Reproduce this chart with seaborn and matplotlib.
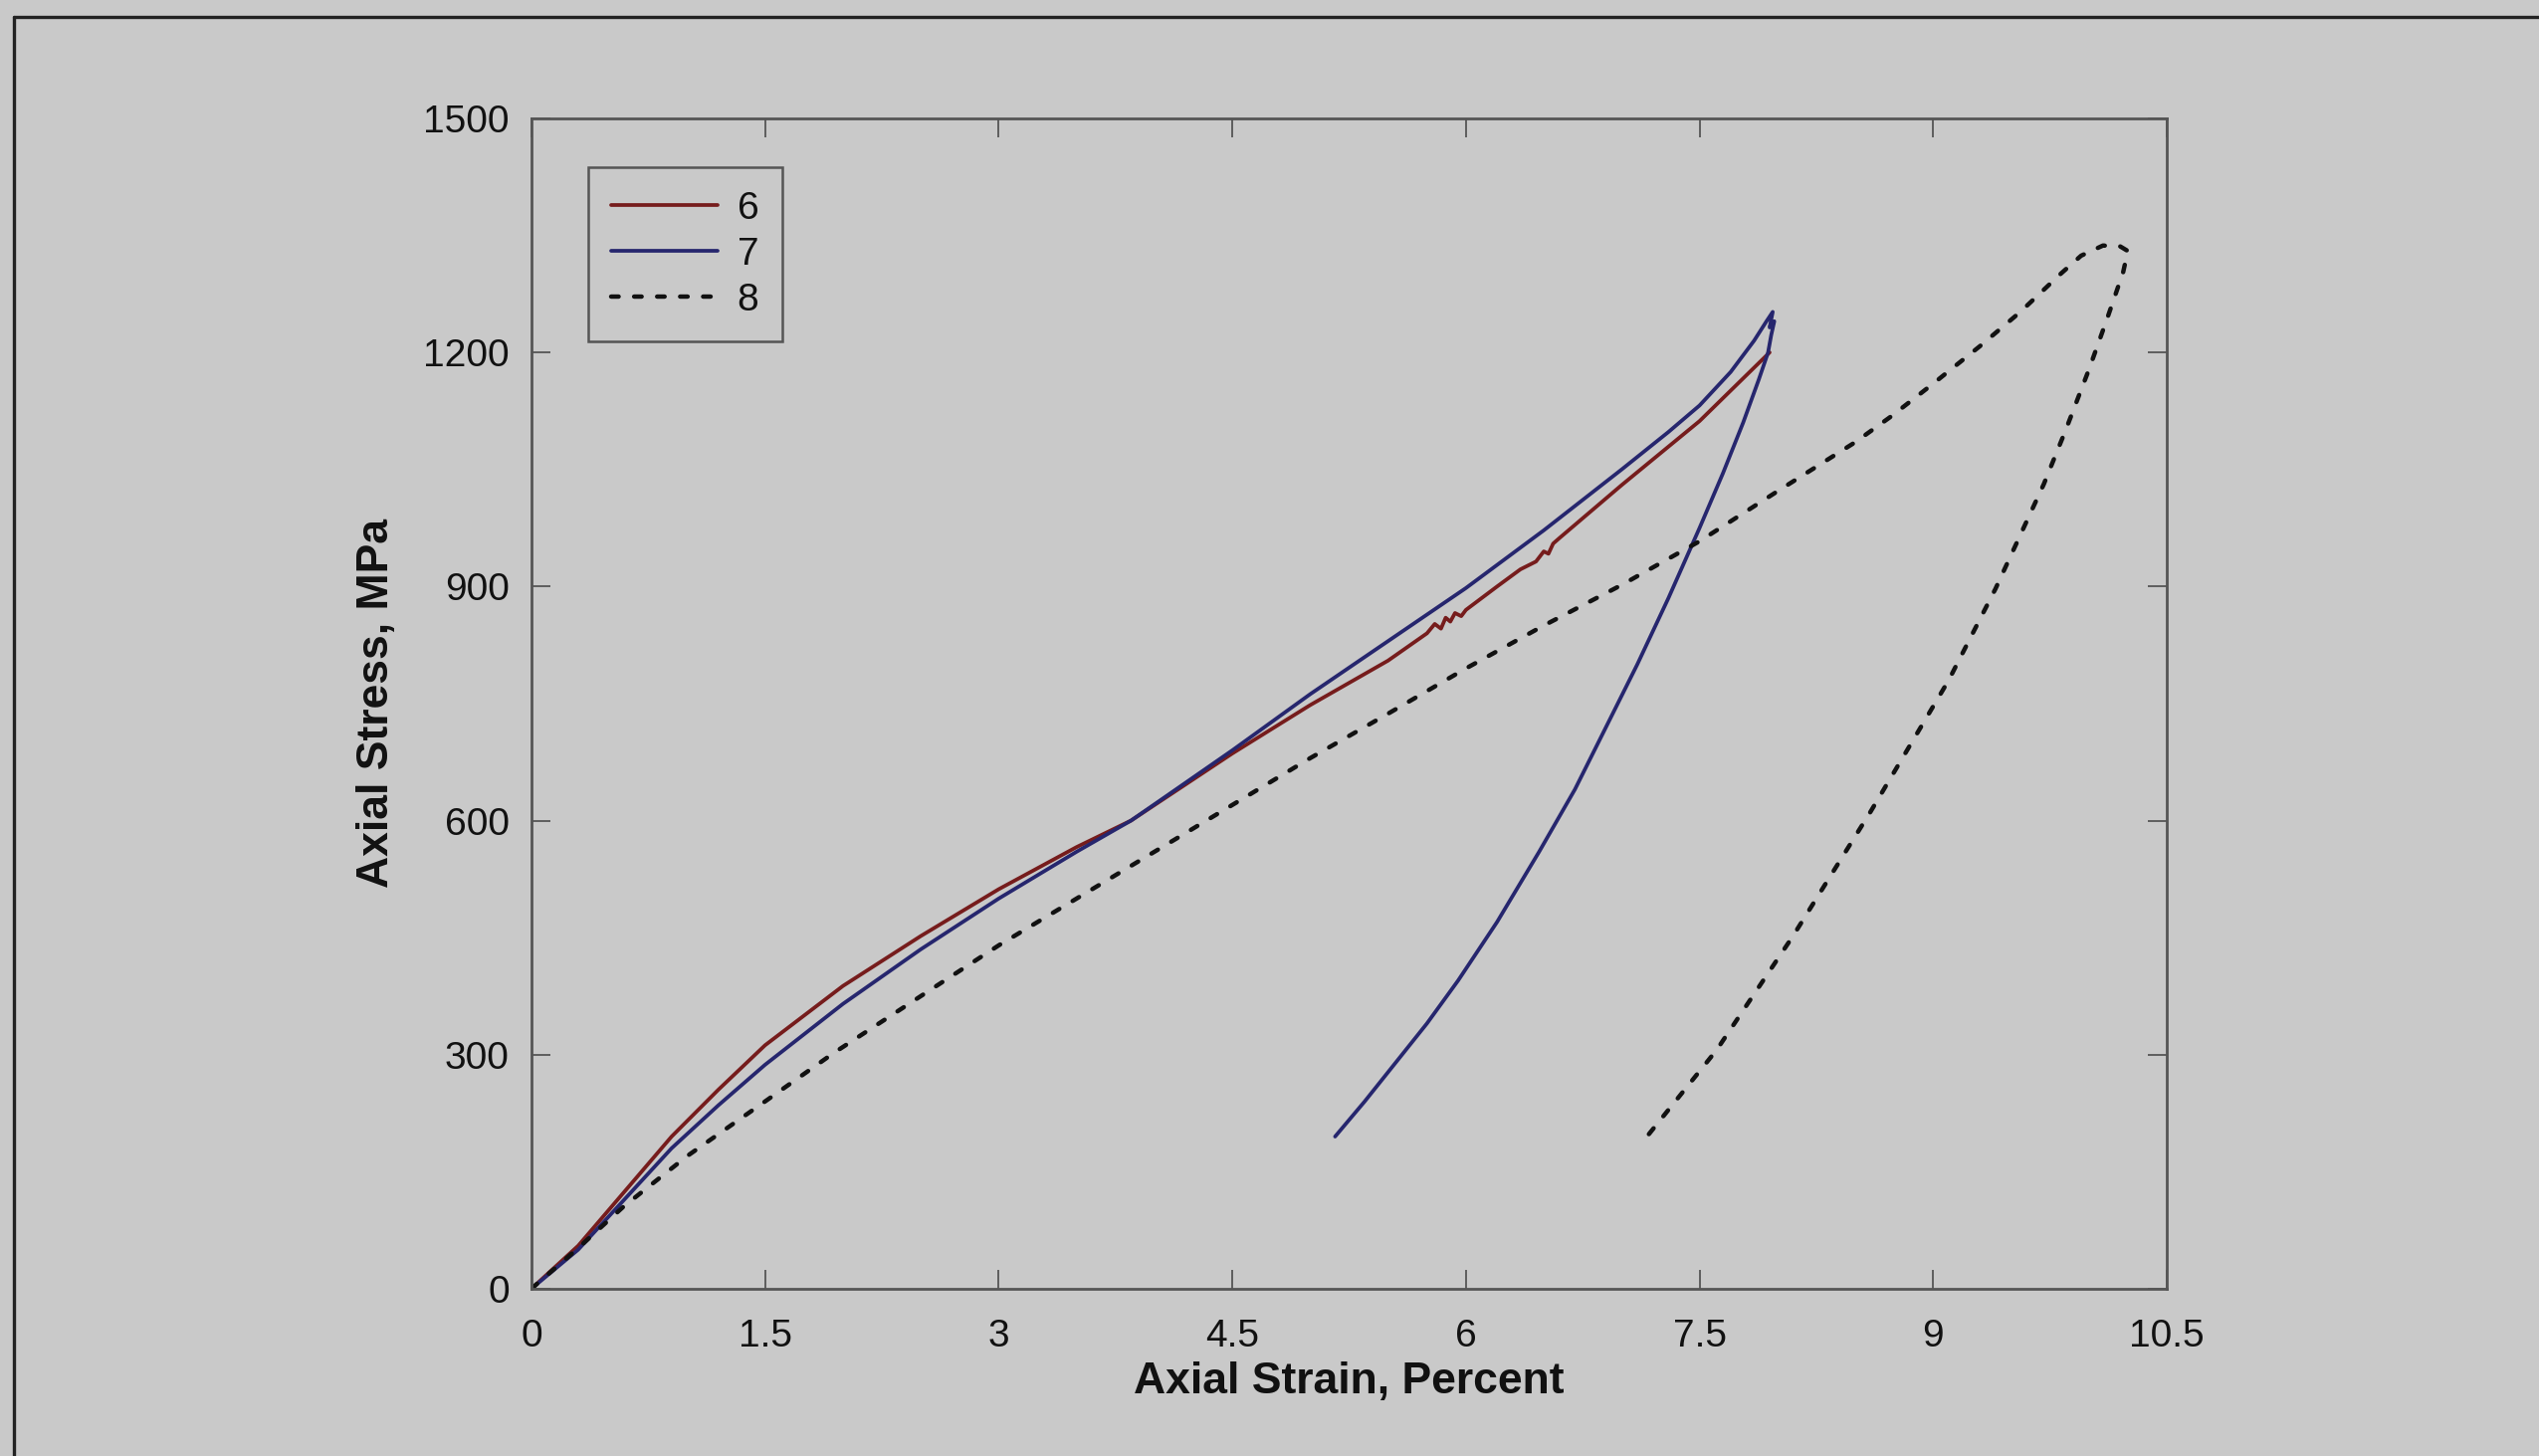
import numpy as np
import pandas as pd
import matplotlib
matplotlib.use("Agg")
import matplotlib.pyplot as plt
from matplotlib.lines import Line2D
import seaborn as sns

# Specimen 6: loading only
strain_6 = [0.0, 0.3, 0.6, 0.9, 1.2, 1.5, 2.0, 2.5, 3.0, 3.5, 3.85, 4.5, 5.0, 5.5,
            5.75, 5.8, 5.84, 5.87, 5.9, 5.93, 5.97, 6.0, 6.2, 6.35, 6.45, 6.5, 6.53,
            6.56, 6.6, 7.0, 7.5, 7.95]
stress_6 = [0, 55, 125, 195, 255, 312, 388, 452, 512, 566, 600, 686, 748, 805,
            840, 852, 846, 860, 855, 866, 862, 870, 900, 922, 932, 945, 942,
            955, 962, 1030, 1112, 1200]

# Specimen 7: loading to peak, then unloading
strain_7 = [0.0, 0.3, 0.6, 0.9, 1.2, 1.5, 2.0, 2.5, 3.0, 3.5, 3.85, 4.5, 5.0, 5.5,
            6.0, 6.5, 7.0, 7.3, 7.5, 7.7, 7.85, 7.93, 7.97, 7.95, 7.98, 7.96,
            7.94, 7.88, 7.78, 7.65, 7.5, 7.3, 7.1, 6.9, 6.7, 6.47, 6.2, 5.95,
            5.75, 5.55, 5.35, 5.16]
stress_7 = [0, 50, 115, 180, 235, 287, 365, 435, 500, 560, 600, 690, 762, 830,
            898, 972, 1050, 1098, 1132, 1175, 1215, 1240, 1252, 1232, 1240, 1222,
            1200, 1165, 1110, 1045, 975, 885, 800, 720, 640, 560, 470, 395,
            340, 290, 240, 195]

# Specimen 8: loading to peak, then unloading
strain_8 = [0.0, 0.3, 0.59, 1.0, 1.5, 1.94, 2.5, 3.0, 3.5, 4.0, 4.5, 5.0, 5.5, 6.0,
            6.5, 7.0, 7.5, 8.0, 8.5, 8.73, 9.0, 9.3, 9.56, 9.82, 9.95, 10.09, 10.2, 10.25,
            10.22, 10.12, 10.0, 9.85, 9.71, 9.4, 9.1, 8.6, 8.1, 7.61, 7.13]
stress_8 = [0, 52, 105, 170, 240, 302, 375, 440, 500, 560, 620, 680, 737, 795,
            850, 902, 958, 1022, 1085, 1118, 1160, 1208, 1252, 1301, 1324, 1337, 1336, 1330,
            1303, 1245, 1178, 1100, 1031, 897, 780, 612, 452, 306, 187]

specimens = ["6", "7", "8"]
colors = {"6": "#761c1c", "7": "#26266e", "8": "#111111"}

x_ticks = [0, 1.5, 3, 4.5, 6, 7.5, 9, 10.5]
x_tick_labels = ["0", "1.5", "3", "4.5", "6", "7.5", "9", "10.5"]
y_ticks = [0, 300, 600, 900, 1200, 1500]

DASH = (1.7, 3.5)

bg = "#c9c9c9"
sns.set_theme(style="white")
plt.rcParams["font.family"] = ["Liberation Sans", "DejaVu Sans"]

fig = plt.figure(figsize=(25.51, 14.63), dpi=100, facecolor=bg)
ax = fig.add_axes([0.2093, 0.1149, 0.8534 - 0.2093, 0.9187 - 0.1149])
ax.set_facecolor(bg)

frames = []
for name, xs, ys in [("6", strain_6, stress_6), ("7", strain_7, stress_7), ("8", strain_8, stress_8)]:
    frames.append(pd.DataFrame({"strain": xs, "stress": ys, "specimen": name}))
df = pd.concat(frames, ignore_index=True)

for name in specimens:
    sub = df[df["specimen"] == name]
    if name == "8":
        sns.lineplot(data=sub, x="strain", y="stress", sort=False, estimator=None,
                     color=colors[name], lw=3.2, ax=ax, label=name)
        line = ax.lines[-1]
        line.set_dashes(DASH)
        line.set_dash_capstyle("round")
    else:
        sns.lineplot(data=sub, x="strain", y="stress", sort=False, estimator=None,
                     color=colors[name], lw=2.7, ax=ax, label=name)
        ax.lines[-1].set_solid_joinstyle("round")

ax.set_xlim(0, 10.5)
ax.set_ylim(0, 1500)
ax.set_xticks(x_ticks)
ax.set_xticklabels(x_tick_labels)
ax.set_yticks(y_ticks)
ax.tick_params(axis="both", which="both", direction="in", length=14, width=1.3,
               color="#555555", labelsize=28, labelcolor="#111111",
               top=True, right=True, bottom=True, left=True)
ax.tick_params(axis="x", pad=22)
ax.tick_params(axis="y", pad=16)
for s in ax.spines.values():
    s.set_color("#555555")
    s.set_linewidth(2.0)
    s.set_visible(True)

ax.set_xlabel("Axial Strain, Percent", fontsize=32, fontweight="bold",
              color="#111111", labelpad=5)
ax.set_ylabel("Axial Stress, MPa", fontsize=32, fontweight="bold",
              color="#111111", labelpad=19)

leg = ax.legend(loc="upper left", bbox_to_anchor=(0.0347, 0.958), borderaxespad=0,
                fontsize=28, frameon=True, fancybox=False, handlelength=2.75,
                handletextpad=0.5, labelspacing=0.26, borderpad=0.6)
leg.get_frame().set_facecolor(bg)
leg.get_frame().set_edgecolor("#555555")
leg.get_frame().set_linewidth(1.8)
leg.get_frame().set_alpha(1)
for t in leg.get_texts():
    t.set_color("#111111")
for h in leg.get_lines():
    if h.get_label() == "8":
        h.set_dashes(DASH)
        h.set_dash_capstyle("round")

# outer page frame (top and left edges)
fig.add_artist(Line2D([14 / 2551, 14 / 2551], [0, 1 - 17 / 1463], transform=fig.transFigure,
                      color="#222222", lw=2.4))
fig.add_artist(Line2D([14 / 2551, 1], [1 - 17 / 1463, 1 - 17 / 1463], transform=fig.transFigure,
                      color="#222222", lw=2.4))

fig.savefig("out.png", dpi=100, facecolor=bg)
